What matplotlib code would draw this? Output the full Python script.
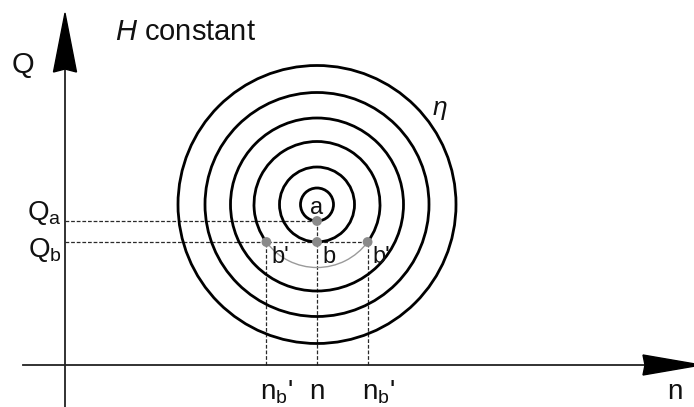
import numpy as np
import matplotlib
matplotlib.use("Agg")
import matplotlib.pyplot as plt
from matplotlib.patches import Arc, Circle, Polygon

plt.rcParams["font.family"] = ["Liberation Sans", "DejaVu Sans"]
plt.rcParams["mathtext.fontset"] = "custom"
plt.rcParams["mathtext.rm"] = "Liberation Sans"
plt.rcParams["mathtext.it"] = "Liberation Sans:italic"

# --- diagram data (n along x, Q along y, origin at the axis crossing) ---
centre_n, centre_q = 252, 160.5
radii = [16.5, 37.5, 63, 86.5, 112, 139]   # efficiency contours, inner -> outer
arc_ring = 2                                 # ring that carries the b' points

point_a = (252, 144)
point_b = (252, 123)
points_bp = [(201.4, 123), (302.6, 123)]

TEXT = "#111111"
LINE = "#222222"
DOT = "#8a8a8a"

fig = plt.figure(figsize=(6.94, 4.07), dpi=100)
ax = fig.add_axes([0, 0, 1, 1])
ax.set_xlim(-65, 629)
ax.set_ylim(-42, 365)
ax.axis("off")

# axes with arrow heads
ax.plot([-42, 580], [0, 0], color=LINE, lw=1.3, zorder=2)
ax.plot([0, 0], [-42, 295], color=LINE, lw=1.3, zorder=2)
ax.add_patch(Polygon([[-11.5, 293], [0, 352], [11.5, 293], [0, 296]],
                     closed=True, color="black", zorder=3))
ax.add_patch(Polygon([[578, 10], [636, 0], [578, -10], [580, 0]],
                     closed=True, color="black", zorder=3))

# concentric contours
for i, r in enumerate(radii):
    if i == arc_ring:
        ang = [np.degrees(np.arctan2(q - centre_q, n - centre_n)) for n, q in points_bp]
        ax.add_patch(Arc((centre_n, centre_q), 2 * r, 2 * r, theta1=ang[1],
                         theta2=ang[0] + 360, color="black", lw=2.0, zorder=2))
        ax.add_patch(Arc((centre_n, centre_q), 2 * r, 2 * r, theta1=ang[0],
                         theta2=ang[1], color="#9a9a9a", lw=1.0, zorder=2))
    else:
        ax.add_patch(Circle((centre_n, centre_q), r, fill=False,
                            edgecolor="black", lw=2.0, zorder=2))

# dashed projection lines
dash = dict(color="#2a2a2a", lw=0.9, ls=(0, (3, 1.5)), zorder=1)
ax.plot([0, point_a[0]], [point_a[1], point_a[1]], **dash)
ax.plot([0, points_bp[1][0]], [point_b[1], point_b[1]], **dash)
for n, q in [point_a] + points_bp:
    ax.plot([n, n], [0, q], **dash)

# operating points
for n, q in [point_a, point_b] + points_bp:
    ax.add_patch(Circle((n, q), 4.2, color=DOT, zorder=4))

# labels
ax.text(50, 325, "$H$ constant", fontsize=21, color=TEXT, va="baseline")
ax.text(-53, 292, "Q", fontsize=21, color=TEXT, va="baseline")
ax.text(-3, 145, r"$\mathrm{Q}_\mathrm{a}$", fontsize=20, color=TEXT,
        ha="right", va="baseline")
ax.text(-3, 108, r"$\mathrm{Q}_\mathrm{b}$", fontsize=20, color=TEXT,
        ha="right", va="baseline")
ax.text(point_a[0], 151, "a", fontsize=17, color=TEXT, ha="center", va="baseline")
ax.text(point_b[0] + 5, 102, "b", fontsize=17, color=TEXT, va="baseline")
for n, q in points_bp:
    ax.text(n + 5, 102, "b'", fontsize=17, color=TEXT, va="baseline")
ax.text(367, 250, r"$\eta$", fontsize=19, color=TEXT, va="baseline")

ax.text(point_a[0], -34, "n", fontsize=20, color=TEXT, ha="center", va="baseline")
for n, q in points_bp:
    ax.text(n - 6, -34, r"$\mathrm{n}_\mathrm{b}$'", fontsize=20, color=TEXT,
            va="baseline")
ax.text(602, -40, "n", fontsize=20, color=TEXT, va="bottom")

fig.savefig("out.png", dpi=100, facecolor="white")
